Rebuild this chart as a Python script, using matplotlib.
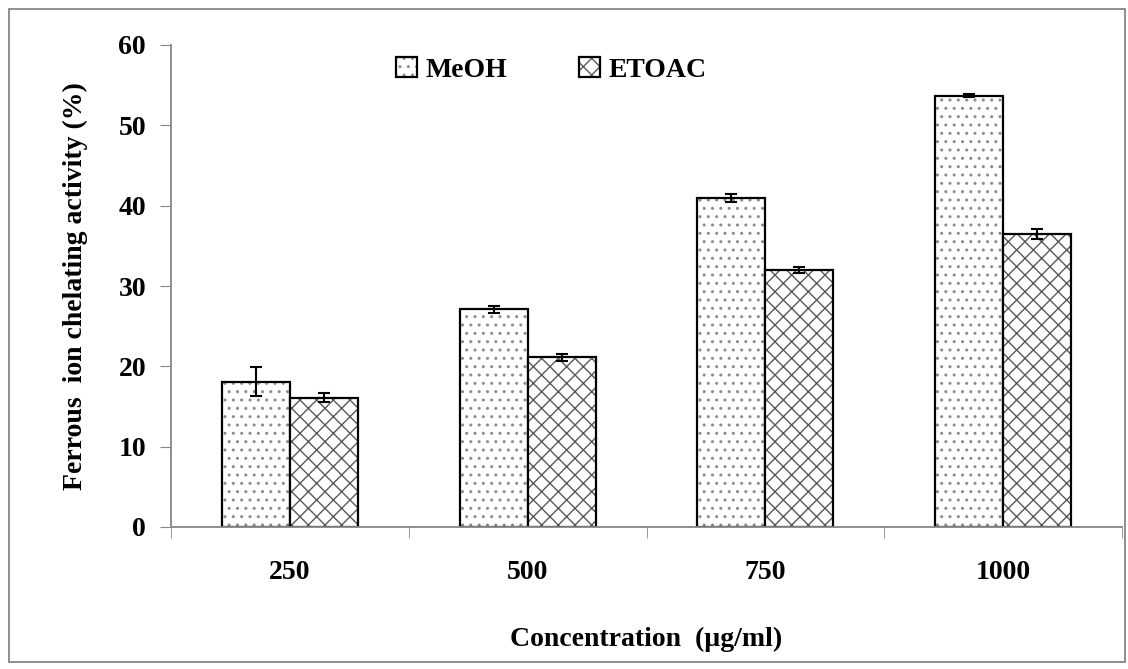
import matplotlib
matplotlib.use("Agg")
import matplotlib.pyplot as plt
import numpy as np
from matplotlib.patches import Rectangle

# data
concentrations = ["250", "500", "750", "1000"]
meoh = [18.1, 27.1, 41.0, 53.7]
meoh_err = [1.8, 0.4, 0.5, 0.2]
etoac = [16.1, 21.1, 32.0, 36.5]
etoac_err = [0.6, 0.4, 0.4, 0.6]

plt.rcParams['font.family'] = ['Liberation Serif', 'DejaVu Serif']
plt.rcParams['font.weight'] = 'bold'
plt.rcParams['hatch.linewidth'] = 1.0

fig = plt.figure(figsize=(11.28, 6.69), dpi=100)
ax = fig.add_axes([171/1128, 1-527/669, (1122-171)/1128, (527-45)/669])

x = np.arange(len(concentrations))
w = 1/3.5

b1 = ax.bar(x - w/2, meoh, w, color='white', edgecolor='black', linewidth=1.6,
            hatch='..', label='MeOH', zorder=2)
b2 = ax.bar(x + w/2, etoac, w, color='white', edgecolor='black', linewidth=1.6,
            hatch='xx', label='ETOAC', zorder=2)
for bar in b1:
    bar._hatch_color = (0.55, 0.55, 0.55, 1)
for bar in b2:
    bar._hatch_color = (0.35, 0.35, 0.35, 1)

ax.errorbar(x - w/2, meoh, yerr=meoh_err, fmt='none', ecolor='black',
            elinewidth=1.5, capsize=4.3, capthick=1.5, zorder=3)
ax.errorbar(x + w/2, etoac, yerr=etoac_err, fmt='none', ecolor='black',
            elinewidth=1.5, capsize=4.3, capthick=1.5, zorder=3)

ax.set_xlim(-0.5, len(concentrations) - 0.5)
ax.set_ylim(0, 60)
ax.set_yticks(range(0, 61, 10))
ax.set_xticks(x)
ax.set_xticklabels(concentrations, fontsize=20, fontweight='bold')
ax.set_xticks(np.arange(-0.5, len(concentrations)), minor=True)
ax.tick_params(axis='x', which='major', length=0, pad=24)
ax.tick_params(axis='x', which='minor', length=8, color='#868686', direction='out')
ax.tick_params(axis='y', length=8, color='#868686', direction='out', pad=10,
               labelsize=20)
for lab in ax.get_yticklabels():
    lab.set_fontweight('bold')

for s in ['top', 'right']:
    ax.spines[s].set_visible(False)
for s in ['left', 'bottom']:
    ax.spines[s].set_color('#868686')
    ax.spines[s].set_linewidth(1.3)

ax.set_xlabel('Concentration  (\u00b5g/ml)', fontsize=20, fontweight='bold',
              labelpad=30)
ax.set_ylabel('Ferrous  ion chelating activity (%)', fontsize=20,
              fontweight='bold', labelpad=22)

leg = ax.legend(loc='center', bbox_to_anchor=(0.40, 0.948), ncol=2, frameon=False,
                prop={'size': 20, 'weight': 'bold'}, handlelength=0.75,
                handleheight=0.75, handletextpad=0.3, columnspacing=2.6)

# gray frame around the whole chart
fig.patches.append(Rectangle((9/1128, 7/669), 1116/1128, 653/669,
                             transform=fig.transFigure, fill=False,
                             edgecolor='#868686', linewidth=1.3))

fig.savefig('out.png', dpi=100)
